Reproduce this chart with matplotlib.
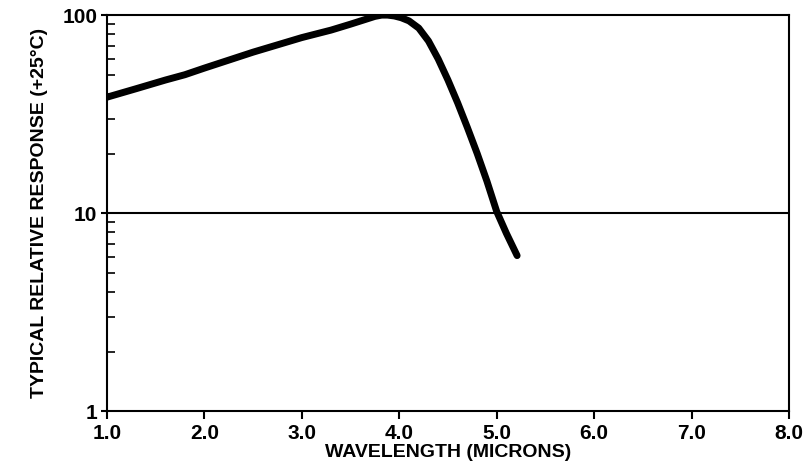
import numpy as np
import matplotlib.pyplot as plt
from matplotlib.ticker import FixedLocator, LogLocator, NullFormatter

# значения
wavelength = [1.0, 1.3, 1.6, 1.8, 2.0, 2.5, 3.0, 3.3, 3.5, 3.65, 3.75, 3.82, 3.88, 3.95, 4.02,
              4.1, 4.2, 4.3, 4.4, 4.5, 4.6, 4.7, 4.8, 4.9, 5.0, 5.1, 5.21]
response = [38.5, 42.5, 47.0, 50.0, 54.0, 65.0, 77.0, 84.0, 90.0, 95.0, 98.5, 100.0, 100.0, 99.0, 97.0,
            93.5, 86.0, 74.0, 60.0, 47.0, 36.0, 27.0, 20.0, 14.5, 10.2, 7.9, 6.1]

x_ticks = [1.0, 2.0, 3.0, 4.0, 5.0, 6.0, 7.0, 8.0]
x_labels = ["1.0", "2.0", "3.0", "4.0", "5.0", "6.0", "7.0", "8.0"]
y_ticks = [1, 10, 100]
y_labels = ["1", "10", "100"]

plt.rcParams['font.family'] = ['Liberation Sans', 'DejaVu Sans']

fig = plt.figure(figsize=(8.08, 4.72), dpi=100)
ax = fig.add_axes([0.1324, 0.129, 0.844, 0.839])

ax.plot(wavelength, response, color='black', linewidth=5, solid_capstyle='round',
        solid_joinstyle='round')
ax.axhline(10, color='black', linewidth=1.5)

ax.set_yscale('log')
ax.set_xlim(1.0, 8.0)
ax.set_ylim(1, 100)

ax.xaxis.set_major_locator(FixedLocator(x_ticks))
ax.set_xticklabels(x_labels, fontsize=15, fontweight='bold')
ax.yaxis.set_major_locator(FixedLocator(y_ticks))
ax.set_yticklabels(y_labels, fontsize=15, fontweight='bold')
ax.yaxis.set_minor_locator(LogLocator(base=10, subs=np.arange(2, 10)))
ax.yaxis.set_minor_formatter(NullFormatter())

ax.tick_params(axis='x', direction='out', length=6, width=1.5, pad=3)
ax.tick_params(axis='y', which='major', direction='out', length=4, width=1.5, pad=3)
ax.tick_params(axis='y', which='minor', direction='in', length=6, width=1.2)

for s in ax.spines.values():
    s.set_linewidth(1.5)

ax.set_xlabel("WAVELENGTH (MICRONS)", fontsize=14, fontweight='bold', labelpad=1)
ax.set_ylabel("TYPICAL RELATIVE RESPONSE (+25°C)", fontsize=14, fontweight='bold', labelpad=10)

fig.savefig("out.png", dpi=100)
